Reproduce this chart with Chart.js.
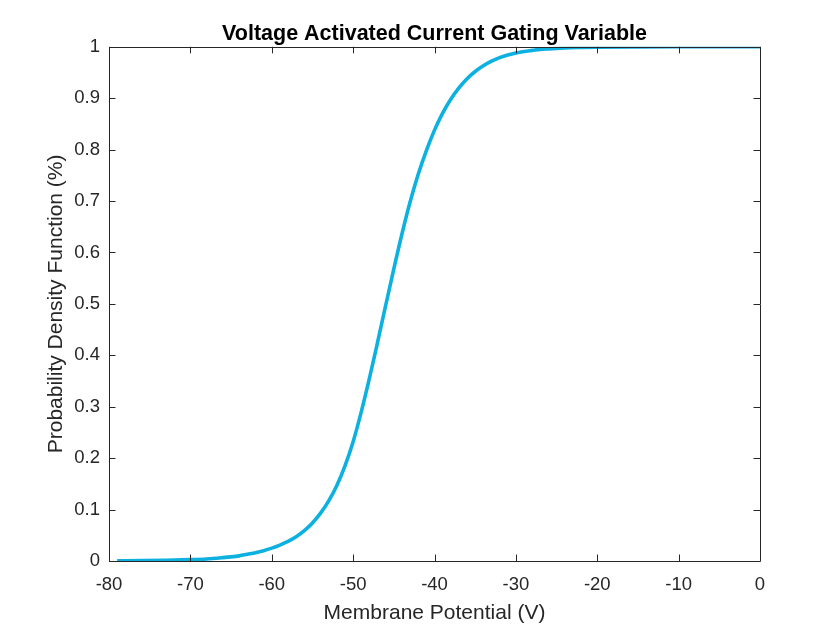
<!DOCTYPE html>
<html>
<head>
<meta charset="utf-8">
<script src="https://cdn.jsdelivr.net/npm/chart.js@4"></script>
<style>
html,body{margin:0;padding:0;background:#ffffff;}
#wrap{width:840px;height:630px;}
</style>
</head>
<body>
<div id="wrap"><canvas id="c" width="840" height="630"></canvas></div>
<script>
const chartTitle = "Voltage Activated Current Gating Variable";
const xAxisTitle = "Membrane Potential (V)";
const yAxisTitle = "Probability Density Function (%)";
const voltage = [-79,-76,-73,-70,-68,-66,-65,-64,-63,-62,-61,-60,-59,-58,-57,-56,-55,-54,-53,-52,-51,-50,-49,-48,-47,-46,-45,-44,-43,-42,-41,-40,-39,-38,-37,-36,-35,-34,-33,-32,-31,-30,-29,-28,-27,-26,-25,-24,-22,-20,-15,-10,-5,0];
const gating = [0.0004,0.0008,0.0015,0.0027,0.004,0.0065,0.008,0.010,0.013,0.016,0.020,0.025,0.031,0.038,0.047,0.059,0.074,0.093,0.117,0.147,0.185,0.232,0.29,0.355,0.425,0.497,0.568,0.636,0.698,0.752,0.798,0.838,0.871,0.898,0.920,0.938,0.952,0.963,0.972,0.979,0.984,0.988,0.991,0.993,0.995,0.996,0.997,0.998,0.9988,0.9993,0.9998,1.0,1.0,1.0];
const xTicks = [-80,-70,-60,-50,-40,-30,-20,-10,0];
const yTicks = [0,0.1,0.2,0.3,0.4,0.5,0.6,0.7,0.8,0.9,1];

const FONT = "'Liberation Sans', Arial, Helvetica, sans-serif";
const AXC = "#262626";

const boxPlugin = {
  id: 'matlabBox',
  afterDraw(chart) {
    const {ctx, chartArea: a, scales: {x, y}} = chart;
    ctx.save();
    ctx.strokeStyle = AXC;
    ctx.lineWidth = 1;
    ctx.beginPath();
    ctx.rect(Math.round(a.left)+0.5, Math.round(a.top)+0.5, Math.round(a.right-a.left), Math.round(a.bottom-a.top));
    ctx.stroke();
    const L = 6.5;
    ctx.beginPath();
    xTicks.forEach(v => {
      const px = Math.round(x.getPixelForValue(v)) + 0.5;
      ctx.moveTo(px, a.bottom); ctx.lineTo(px, a.bottom - L);
      ctx.moveTo(px, a.top); ctx.lineTo(px, a.top + L);
    });
    yTicks.forEach(v => {
      const py = Math.round(y.getPixelForValue(v)) + 0.5;
      ctx.moveTo(a.left, py); ctx.lineTo(a.left + L, py);
      ctx.moveTo(a.right, py); ctx.lineTo(a.right - L, py);
    });
    ctx.stroke();
    ctx.restore();
  }
};

new Chart(document.getElementById('c'), {
  type: 'scatter',
  data: {
    datasets: [{
      data: voltage.map((v, i) => ({x: v, y: gating[i]})),
      showLine: true,
      borderColor: '#0db1e0',
      borderWidth: 3.6,
      pointRadius: 0,
      cubicInterpolationMode: 'monotone',
      fill: false
    }]
  },
  options: {
    responsive: false,
    animation: false,
    devicePixelRatio: 1,
    layout: {padding: {left: 0, right: 80, top: 0, bottom: 0}},
    plugins: {
      legend: {display: false},
      tooltip: {enabled: false},
      title: {
        display: true,
        fullSize: false,
        text: chartTitle,
        color: '#000000',
        font: {family: FONT, size: 21.5, weight: 'bold'},
        padding: {top: 21, bottom: 0}
      }
    },
    scales: {
      x: {
        type: 'linear',
        min: -80, max: 0,
        afterFit(s) { s.height = 69; },
        afterBuildTicks(s) { s.ticks = xTicks.map(v => ({value: v})); },
        grid: {display: false, drawTicks: false},
        border: {display: false},
        ticks: {color: AXC, font: {family: FONT, size: 18.5}, padding: 13, maxRotation: 0, autoSkip: false,
                callback: v => String(v)},
        title: {display: true, text: xAxisTitle, color: AXC, font: {family: FONT, size: 21}, padding: {top: 0, bottom: 4}}
      },
      y: {
        type: 'linear',
        min: 0, max: 1,
        afterFit(s) { s.width = 109; },
        afterBuildTicks(s) { s.ticks = yTicks.map(v => ({value: v})); },
        grid: {display: false, drawTicks: false},
        border: {display: false},
        ticks: {color: AXC, font: {family: FONT, size: 18.5}, padding: 9, autoSkip: false,
                callback: v => String(Math.round(v*10)/10)},
        title: {display: true, text: yAxisTitle, color: AXC, font: {family: FONT, size: 21}, padding: {top: 44, bottom: 0}}
      }
    }
  },
  plugins: [boxPlugin]
});
</script>
</body>
</html>
